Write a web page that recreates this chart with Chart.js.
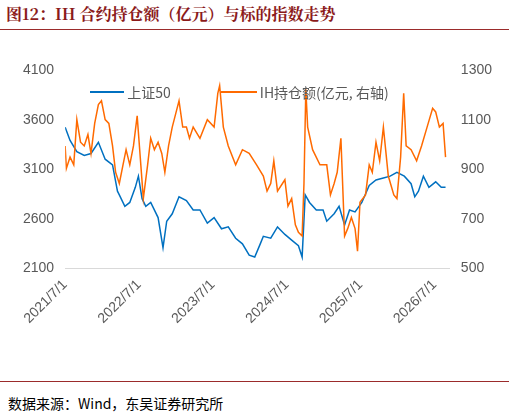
<!DOCTYPE html><html><head><meta charset="utf-8">
<script src="https://cdn.jsdelivr.net/npm/chart.js@4"></script>
<style>
body{margin:0;width:509px;height:417px;background:#fff;font-family:"Noto Sans CJK SC","Noto Sans",sans-serif;position:relative;overflow:hidden}
#t{position:absolute;left:6px;top:2px;font-size:16px;font-weight:bold;color:#8b1a1a;font-family:"Noto Serif CJK SC","Noto Sans CJK SC",serif}
.hl{position:absolute;left:0;width:509px;height:1px;background:#9b2b2b}
#s{position:absolute;left:8px;top:393px;font-size:14px;color:#000}
#wrap{position:absolute;left:0;top:40px;width:509px;height:290px}
#lg{position:absolute;top:80px;left:90px;font-size:14px;color:#595959;white-space:nowrap}
#lg span{display:inline-block;vertical-align:middle}
</style></head><body>
<div id="t">图12：IH 合约持仓额（亿元）与标的指数走势</div>
<div class="hl" style="top:29px"></div>
<div id="wrap"><canvas id="c"></canvas></div>
<div id="lg"><span style="width:34px;height:2px;background:#0070c0"></span> <span>上证50</span><span style="width:50px"></span><span style="width:36px;height:2px;background:#ff6a00"></span> <span>IH持仓额(亿元, 右轴)</span></div>
<div class="hl" style="top:381px;background:#9b2b2b"></div>
<div id="s">数据来源：Wind，东吴证券研究所</div>
<script>
const tickLabels=["2021/7/1","2022/7/1","2023/7/1","2024/7/1","2025/7/1","2026/7/1"];
const sz50Months=[0,0.8,1.9,3.1,4.2,5.4,6.5,7.7,8.5,8.8,9.7,10.5,11.4,11.9,12.5,13.1,13.9,15.1,15.9,16.5,17.4,18.5,19.7,20.8,21.9,23.1,24.2,25.4,26.5,27.7,28.8,29.9,30.8,31.7,32.2,33.4,34.5,35.7,36.8,37.9,38.5,39.0,39.7,40.8,41.9,42.5,43.7,44.5,45.4,46.2,47.1,48.2,49.4,50.5,51.7,52.8,53.9,55.1,56.2,56.8,57.4,58.2,59.1,60.2,61.1,61.8];
const sz50=[3524,3391,3278,3240,3259,3372,3202,3145,2880,2842,2728,2766,2918,3031,2804,2728,2766,2614,2311,2577,2652,2823,2785,2690,2690,2558,2614,2501,2520,2406,2349,2235,2216,2349,2425,2406,2520,2444,2387,2330,2216,2842,2766,2690,2690,2577,2652,2728,2539,2690,2671,2766,2937,2993,3012,3031,3069,3031,2955,2823,2880,3031,2918,2974,2918,2918];
const ihMonths=[0,0.2,0.8,1.4,1.9,2.5,3.1,3.7,4.2,4.8,5.4,5.9,6.5,7.1,7.7,8.2,8.8,9.4,9.9,10.5,11.1,11.7,12.2,12.7,13.4,13.9,14.5,15.1,15.7,16.2,16.8,17.4,18.5,19.1,19.7,20.2,20.8,21.9,23.1,24.2,24.8,25.1,25.7,26.5,27.7,28.8,29.9,31.1,32.2,32.8,33.4,33.9,34.5,35.7,36.2,36.8,37.4,37.9,38.5,38.8,39.1,39.4,40.2,41.4,42.5,43.1,43.7,44.2,44.8,45.4,45.9,46.5,47.1,47.5,47.9,48.8,49.4,49.9,50.5,51.1,51.7,52.5,53.4,53.9,54.5,55.0,55.4,56.2,57.1,57.9,58.8,59.7,60.2,60.8,61.4,61.8];
const ihOI=[994,903,949,918,1100,1009,994,1040,964,1085,1161,1176,1100,1085,994,888,843,918,979,918,994,1115,949,782,918,1025,979,1009,964,888,994,1070,1176,1070,1070,1025,1070,1025,1100,1070,1206,1237,1070,994,918,979,964,918,873,812,843,934,812,858,752,782,676,646,631,843,1222,1070,979,918,918,797,843,888,1025,631,661,706,661,570,767,797,918,888,1009,934,1070,873,797,782,949,1206,994,979,934,994,1070,1146,1131,1070,1085,949];
const pts=(xs,ys)=>xs.map((x,i)=>({x,y:ys[i]}));
new Chart(document.getElementById('c'),{type:'line',
data:{datasets:[
{data:pts(ihMonths,ihOI),yAxisID:'y1',borderColor:'#ff6a00',borderWidth:1.5,pointRadius:0,tension:0},
{data:pts(sz50Months,sz50),yAxisID:'y',borderColor:'#0070c0',borderWidth:1.5,pointRadius:0,tension:0}]},
options:{responsive:true,maintainAspectRatio:false,animation:false,
layout:{padding:{left:20,right:14,top:30}},
plugins:{legend:{display:false},tooltip:{enabled:false}},
scales:{
x:{type:'linear',min:0,max:62.5,afterBuildTicks:a=>{a.ticks=tickLabels.map((_,i)=>({value:i*12}))},
ticks:{autoSkip:false,maxRotation:45,minRotation:45,color:'#595959',font:{size:14},callback:(v)=>tickLabels[v/12]},
grid:{display:false,drawTicks:true,tickLength:5,color:'#d9d9d9'},border:{color:'#d9d9d9'}},
y:{min:2100,max:4100,ticks:{stepSize:500,color:'#595959',font:{size:14},callback:v=>String(v)},grid:{display:false},border:{display:false}},
y1:{position:'right',min:500,max:1300,ticks:{stepSize:200,color:'#595959',font:{size:14},callback:v=>String(v)},grid:{display:false},border:{display:false}}
}}});
</script></body></html>
